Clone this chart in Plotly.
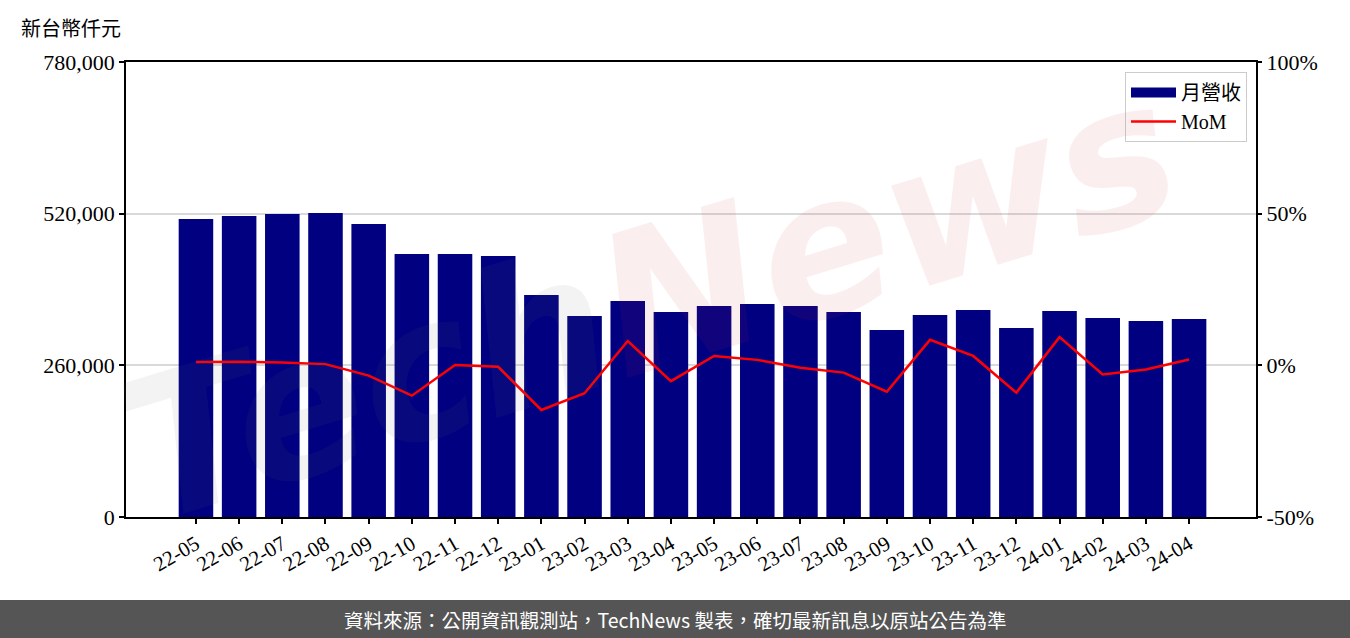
import plotly.graph_objects as go

months = ["22-05","22-06","22-07","22-08","22-09","22-10","22-11","22-12",
          "23-01","23-02","23-03","23-04","23-05","23-06","23-07","23-08",
          "23-09","23-10","23-11","23-12","24-01","24-02","24-03","24-04"]
revenue = [510900, 516000, 519400, 521100, 502300, 450900, 450900, 447400,
           380600, 344600, 370300, 351400, 361700, 365100, 361700, 351400,
           320600, 346300, 354900, 324000, 353100, 341100, 336000, 339400]
mom = [1.1, 1.2, 0.9, 0.4, -3.4, -10.0, 0.1, -0.5,
       -14.7, -9.2, 8.0, -5.2, 3.1, 1.8, -0.8, -2.4,
       -8.7, 8.4, 3.1, -9.0, 9.3, -3.0, -1.4, 1.9]
left_ticks = [0, 260000, 520000, 780000]
left_labels = ["0", "260,000", "520,000", "780,000"]
right_ticks = [-50, 0, 50, 100]
right_labels = ["-50%", "0%", "50%", "100%"]

serif = "Liberation Serif, DejaVu Serif, serif"
cjk = "Noto Sans CJK TC, Noto Sans CJK SC, sans-serif"
NAVY = "#000080"

fig = go.Figure()
fig.add_trace(go.Bar(x=months, y=revenue, name="月營收", marker_color=NAVY,
                     marker_line_width=0, width=0.8, yaxis="y", showlegend=False))
# legend proxy for the bar series (wide rectangle swatch)
fig.add_trace(go.Scatter(x=[None], y=[None], name="月營收", mode="lines",
                         line=dict(color=NAVY, width=16), yaxis="y2"))
fig.add_trace(go.Scatter(x=months, y=mom, name="MoM", mode="lines",
                         line=dict(color="#ff0000", width=2.5), yaxis="y2"))

W, H = 1350, 638
l, r, t, b = 126, 94, 62, 121
pw, ph = W - l - r, H - t - b

def px(x):
    return (x - l) / pw

def py(y):
    return (H - b - y) / ph

fig.update_layout(
    width=W, height=H,
    margin=dict(l=l, r=r, t=t, b=b, pad=0),
    paper_bgcolor="white", plot_bgcolor="white",
    showlegend=True,
    legend=dict(x=px(1247), y=py(72), xanchor="right", yanchor="top",
                bgcolor="rgba(255,255,255,0.85)", bordercolor="#cccccc", borderwidth=1,
                font=dict(family=serif + ", " + cjk, size=20, color="black"),
                itemwidth=45, tracegroupgap=4),
    xaxis=dict(type="category", range=[-1.62, 24.55], tickangle=-30,
               tickfont=dict(family=serif, size=21, color="black"),
               ticks="outside", ticklen=5, tickcolor="black", tickwidth=1.5,
               showline=True, linecolor="black", linewidth=1.5, mirror=True,
               showgrid=False),
    yaxis=dict(range=[0, 780000], tickvals=left_ticks, ticktext=left_labels,
               tickfont=dict(family=serif, size=22, color="black"),
               ticks="outside", ticklen=5, tickcolor="black", tickwidth=1.5,
               showline=True, linecolor="black", linewidth=1.5, mirror=True,
               showgrid=True, gridcolor="#d9d9d9", gridwidth=1.5, zeroline=False),
    yaxis2=dict(range=[-50, 100], tickvals=right_ticks, ticktext=right_labels,
                overlaying="y", side="right",
                tickfont=dict(family=serif, size=22, color="black"),
                ticks="outside", ticklen=5, tickcolor="black", tickwidth=1.5,
                showgrid=False, zeroline=False, showline=False),
)

# footer band
fig.add_shape(type="rect", xref="paper", yref="paper",
              x0=px(0), x1=px(W), y0=py(638), y1=py(600),
              fillcolor="#555555", line_width=0, layer="above")
fig.add_annotation(xref="paper", yref="paper", x=px(675), y=py(619),
                   text="資料來源：公開資訊觀測站，TechNews 製表，確切最新訊息以原站公告為準",
                   showarrow=False, xanchor="center", yanchor="middle",
                   font=dict(family=cjk, size=19.5, color="white"))
# unit label
fig.add_annotation(xref="paper", yref="paper", x=px(19), y=py(27),
                   text="新台幣仟元", showarrow=False, xanchor="left", yanchor="middle",
                   font=dict(family=cjk, size=20, color="black"))
# watermark
fig.add_annotation(xref="paper", yref="paper", x=px(650), y=py(300),
                   text="<b><i><span style='color:#707070'>Tech</span>"
                        "<span style='color:#d03048'>News</span></i></b>",
                   showarrow=False, textangle=-17, xanchor="center", yanchor="middle",
                   opacity=0.08,
                   font=dict(family="DejaVu Sans, sans-serif", size=195, color="#707070"))

fig.write_html("out.html", config={"displayModeBar": False},
               post_script="document.body.style.margin='0';document.body.style.padding='0';")
